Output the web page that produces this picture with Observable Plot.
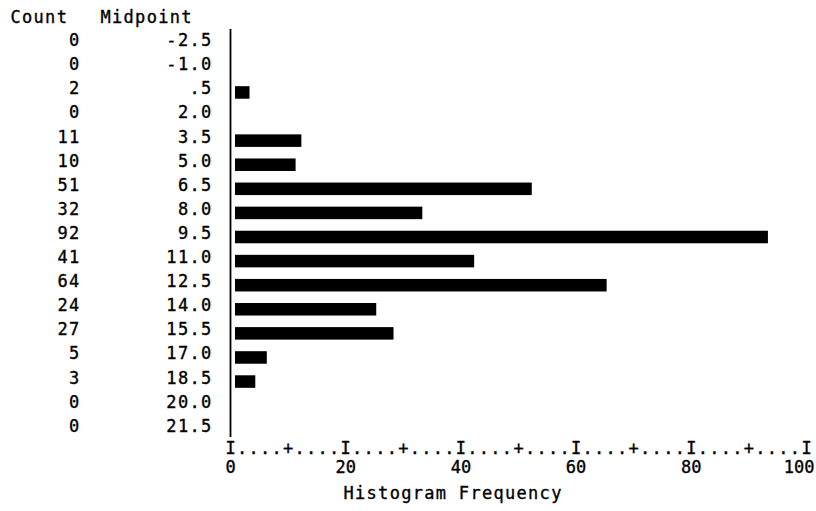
<!DOCTYPE html>
<html>
<head>
<meta charset="utf-8">
<script src="https://cdn.jsdelivr.net/npm/d3@7"></script>
<script src="https://cdn.jsdelivr.net/npm/@observablehq/plot@0.6"></script>
<style>
  html, body { margin: 0; padding: 0; background: #fff; }
  #chart .ls, #chart .ls text { letter-spacing: 1.3px; }
</style>
</head>
<body>
<div id="chart"></div>
<script>
// Data
const midpoints = ["-2.5", "-1.0", ".5", "2.0", "3.5", "5.0", "6.5", "8.0", "9.5",
                   "11.0", "12.5", "14.0", "15.5", "17.0", "18.5", "20.0", "21.5"];
const counts = [0, 0, 2, 0, 11, 10, 51, 32, 92, 41, 64, 24, 27, 5, 3, 0, 0];
const tickLabels = [0, 20, 40, 60, 80, 100];
const minorTicks = [10, 30, 50, 70, 90];
const xTitle = "Histogram Frequency";
const headers = ["Count", "Midpoint"];

const rows = midpoints.map((m, i) => ({mid: m, count: counts[i]}));

// SPSS-style text axis: "I" at labelled ticks, "+" at minor ticks, "." between
const glyphs = d3.range(0, 101, 2).map(v => ({
  v,
  g: tickLabels.includes(v) ? "I" : minorTicks.includes(v) ? "+" : "."
}));

const txt = {stroke: "#000", strokeWidth: 0.35, fill: "#000"};

const chart = Plot.plot({
  width: 816,
  height: 511,
  marginLeft: 230,
  marginRight: 10,
  marginTop: 29,
  marginBottom: 74,
  style: {fontFamily: "'DejaVu Sans Mono', monospace", fontSize: "17px", color: "#000", background: "#fff"},
  x: {domain: [0, 100], axis: null},
  y: {type: "band", domain: midpoints, range: [36, 434], paddingInner: 0.48, paddingOuter: 0, align: 0.5, round: false, axis: null},
  marks: [
    Plot.barX(rows, {x: "count", y: "mid", fill: "#000", filter: d => d.count > 0, insetLeft: 5, insetRight: -8, dy: 2}),
    Plot.ruleX([0], {stroke: "#000", strokeWidth: 1.8}),
    // left text columns
    Plot.text(rows, {...txt, y: "mid", text: d => String(d.count), frameAnchor: "left", dx: -150, dy: -2, textAnchor: "end", lineAnchor: "middle", className: "ls"}),
    Plot.text(rows, {...txt, y: "mid", text: "mid", frameAnchor: "left", dx: -18, dy: -2, textAnchor: "end", lineAnchor: "middle", className: "ls"}),
    Plot.text([headers[0]], {...txt, text: d => d, frameAnchor: "top-left", dx: -220, dy: -12, textAnchor: "start", lineAnchor: "middle", className: "ls"}),
    Plot.text([headers[1]], {...txt, text: d => d, frameAnchor: "top-left", dx: -130, dy: -12, textAnchor: "start", lineAnchor: "middle", className: "ls"}),
    // bottom axis
    Plot.text(glyphs, {...txt, x: "v", text: "g", frameAnchor: "bottom", dy: 11, lineAnchor: "middle"}),
    Plot.text(tickLabels.slice(0, -1), {...txt, x: d => d, text: d => String(d), frameAnchor: "bottom", dy: 30, lineAnchor: "middle"}),
    Plot.text(tickLabels.slice(-1), {...txt, x: d => d, text: d => String(d), frameAnchor: "bottom", dy: 30, dx: 8, textAnchor: "end", lineAnchor: "middle"}),
    Plot.text([xTitle], {...txt, text: d => d, frameAnchor: "bottom-left", dx: 113, dy: 56, textAnchor: "start", lineAnchor: "middle", className: "ls"})
  ]
});
document.getElementById("chart").appendChild(chart);
</script>
</body>
</html>
